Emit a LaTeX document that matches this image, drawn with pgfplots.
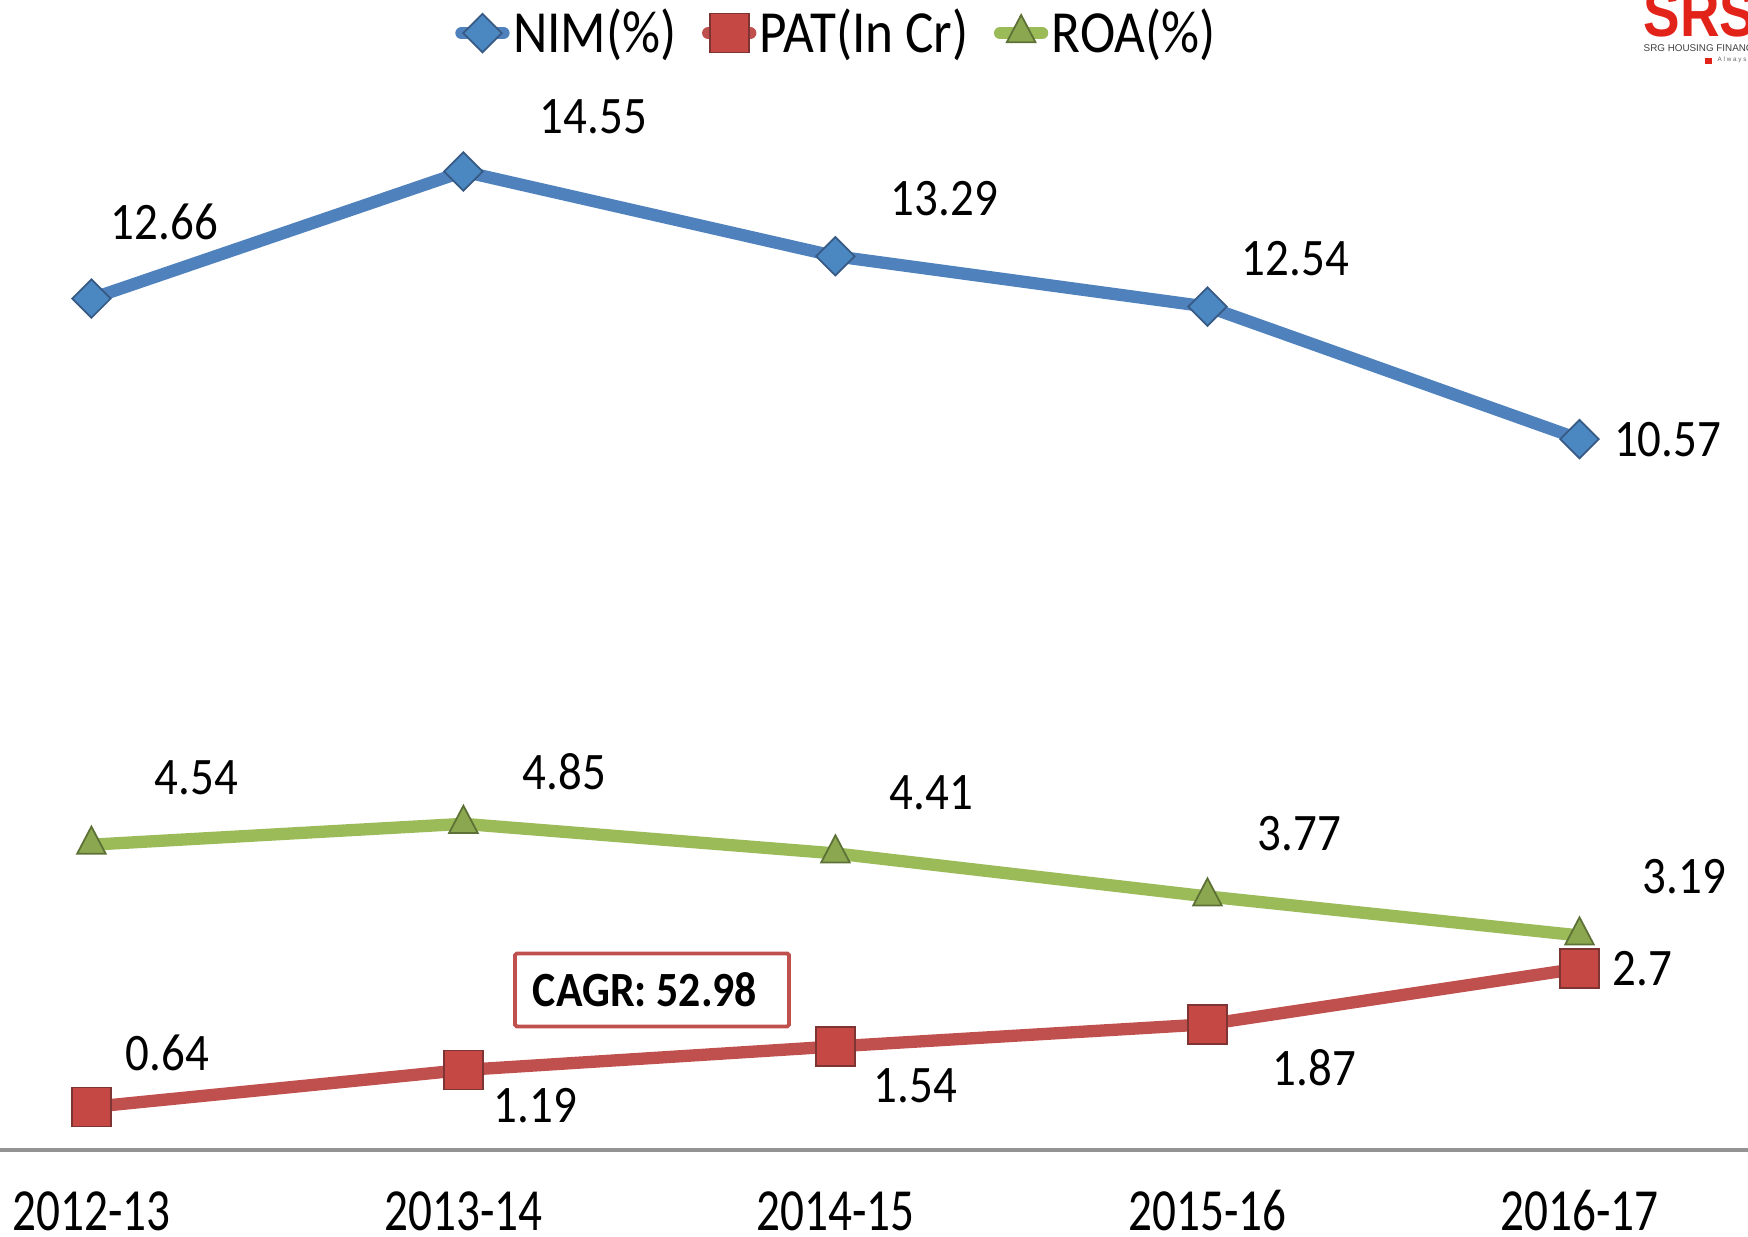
\documentclass[border=0pt]{standalone}
\usepackage{fontspec}
\setmainfont{Carlito}[FakeStretch=0.89]
\newfontfamily\tickfont{Carlito}[FakeStretch=0.79]
\newfontfamily\logofont{Liberation Sans}
\usepackage{pgfplots}
\pgfplotsset{compat=1.18}
\definecolor{nimblue}{HTML}{4F81BD}
\definecolor{patred}{HTML}{C0504D}
\definecolor{roagreen}{HTML}{9BBB59}
\definecolor{logored}{HTML}{E2231A}
\begin{document}
\begin{tikzpicture}
\begin{axis}[
  name=ax, scale only axis, width=17.48cm, height=10.76cm,
  xmin=-0.2457, xmax=4.453, ymin=0, ymax=16,
  axis x line=bottom, axis y line=none,
  x axis line style={-, draw=gray!85, line width=0.9pt},
  xtick={0,1,2,3,4},
  xticklabels={2012-13,2013-14,2014-15,2015-16,2016-17},
  major tick length=0pt,
  xticklabel style={font=\tickfont\fontsize{17}{20}\selectfont, anchor=center, yshift=-6.1mm},
  ytick=\empty,
  clip=false,
  legend style={at={(0.479,1.038)}, anchor=center, draw=none, fill=none,
    legend columns=3, font=\fontsize{17}{20}\selectfont,
    /tikz/every even column/.append style={column sep=2.2mm},
    nodes={inner xsep=1pt}},
  legend image code/.code={\draw[#1, mark repeat=2, mark phase=2, line cap=round] plot coordinates {(0cm,0cm) (0.21cm,0cm) (0.42cm,0cm)};},
  every axis plot/.append style={line width=3.5pt},
]
\addplot[nimblue, mark=square*, mark size=1.36mm,
  mark options={rotate=45, fill=nimblue!95!cyan, draw=nimblue!70!black, line width=0.5pt}]
  coordinates {(0,12.66) (1,14.55) (2,13.29) (3,12.54) (4,10.57)};
\addlegendentry{NIM(\%)}
\addplot[patred, mark=square*, mark size=1.95mm,
  mark options={fill=patred!90!red, draw=patred!65!black, line width=0.5pt}]
  coordinates {(0,0.64) (1,1.19) (2,1.54) (3,1.87) (4,2.7)};
\addlegendentry{PAT(In Cr)}
\addplot[roagreen, mark=triangle*, mark size=1.65mm,
  mark options={yscale=1.1, fill=roagreen!90!black, draw=roagreen!60!black, line width=0.5pt}]
  coordinates {(0,4.54) (1,4.85) (2,4.41) (3,3.77) (4,3.19)};
\addlegendentry{ROA(\%)}

\begin{scope}[every node/.style={font=\fontsize{15}{18}\selectfont, anchor=center, inner sep=0pt}]
% NIM labels
\node[xshift=7.3mm, yshift=7.7mm] at (axis cs:0,12.66) {12.66};
\node[xshift=13.0mm, yshift=5.5mm] at (axis cs:1,14.55) {14.55};
\node[xshift=10.9mm, yshift=5.8mm] at (axis cs:2,13.29) {13.29};
\node[xshift=8.8mm, yshift=4.8mm] at (axis cs:3,12.54) {12.54};
\node[xshift=8.8mm, yshift=0mm] at (axis cs:4,10.57) {10.57};
% ROA labels
\node[xshift=10.5mm, yshift=6.7mm] at (axis cs:0,4.54) {4.54};
\node[xshift=10.1mm, yshift=5.2mm] at (axis cs:1,4.85) {4.85};
\node[xshift=9.6mm, yshift=6.1mm] at (axis cs:2,4.41) {4.41};
\node[xshift=9.2mm, yshift=6.3mm] at (axis cs:3,3.77) {3.77};
\node[xshift=10.5mm, yshift=5.9mm] at (axis cs:4,3.19) {3.19};
% PAT labels
\node[xshift=7.6mm, yshift=5.4mm] at (axis cs:0,0.64) {0.64};
\node[xshift=7.2mm, yshift=-3.6mm] at (axis cs:1,1.19) {1.19};
\node[xshift=8.0mm, yshift=-3.9mm] at (axis cs:2,1.54) {1.54};
\node[xshift=10.7mm, yshift=-4.3mm] at (axis cs:3,1.87) {1.87};
\node[xshift=6.3mm, yshift=0mm] at (axis cs:4,2.7) {2.7};
\end{scope}

\node[draw=patred, line width=1.1pt, minimum width=27.4mm, minimum height=7.3mm, inner sep=0pt, rounded corners=0.5pt] at (axis cs:1.507,2.38) {};
\node[font=\bfseries\fontsize{14}{17}\selectfont, xshift=-0.7mm] at (axis cs:1.507,2.38) {CAGR: 52.98};
\end{axis}
\pgfresetboundingbox
\path[use as bounding box] ([yshift=-8.6mm]ax.south west) rectangle ([yshift=7.4mm]ax.north east);
\begin{scope}
\clip ([yshift=-8.6mm]ax.south west) rectangle ([yshift=7.4mm]ax.north east);
\node[anchor=base west, inner sep=0pt, xscale=0.82, text=logored, font=\logofont\bfseries\fontsize{19}{19}\selectfont] at ([xshift=-10.5mm, yshift=3.7mm]ax.north east) {SRS};
\node[anchor=base west, inner sep=0pt, text=black!75, font=\logofont\fontsize{2.8}{3}\selectfont] at ([xshift=-10.5mm, yshift=2.2mm]ax.north east) {SRG HOUSING FINANCE};
\fill[logored] ([xshift=-4.3mm, yshift=1.0mm]ax.north east) rectangle ++(0.7mm,0.6mm);
\node[anchor=base west, inner sep=0pt, text=black!60, font=\logofont\fontsize{1.8}{2}\selectfont] at ([xshift=-3.1mm, yshift=1.2mm]ax.north east) {A l w a y s};
\end{scope}
\end{tikzpicture}
\end{document}
